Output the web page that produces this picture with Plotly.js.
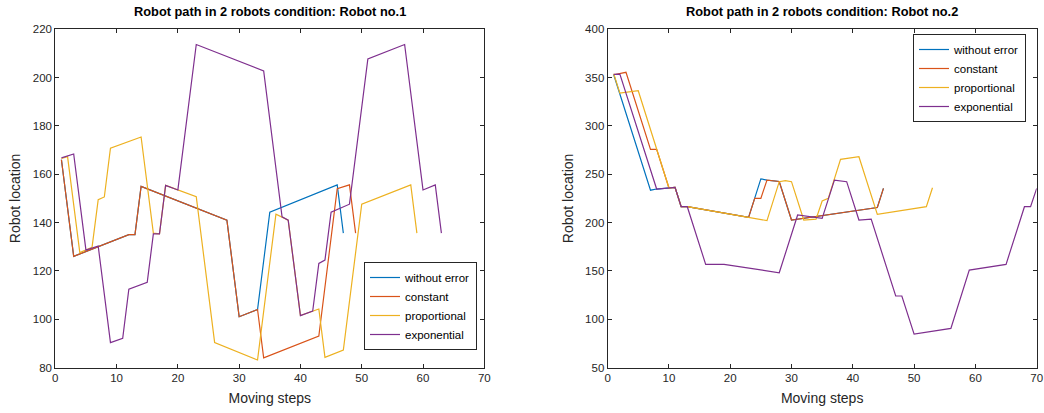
<!DOCTYPE html>
<html>
<head>
<meta charset="utf-8">
<script src="https://cdn.plot.ly/plotly-3.0.1.min.js"></script>
<style>html,body{margin:0;padding:0;background:#fff;}#chart{width:1044px;height:413px;}</style>
</head>
<body>
<div id="chart"></div>
<script>
// ---- Data: Robot no.1 (left panel) ----
const seriesNames = ["without error", "constant", "proportional", "exponential"];
const seriesColors = ["#0072BD", "#D95319", "#EDB120", "#7E2F8E"];

const r1_noerr_x = [1, 3, 12, 13, 14, 28, 30, 33, 35, 46, 47];
const r1_noerr_y = [166, 126, 135, 135, 155, 141, 101, 104, 144.3, 155.6, 135.6];
const r1_const_x = [1, 3, 12, 13, 14, 28, 30, 33, 34, 43, 46, 48, 49];
const r1_const_y = [166, 126, 135, 135, 155, 141, 101, 104, 84, 93, 154, 155.6, 135.6];
const r1_prop_x = [1, 2, 4, 6, 7, 8, 9, 14, 16, 17, 18, 20, 23, 26, 33, 36, 37, 38, 40, 42, 43, 44, 47, 50, 58, 59];
const r1_prop_y = [166.5, 167.3, 127.6, 129.8, 149.5, 150.6, 170.8, 175.4, 135.6, 135.3, 155.4, 153.5, 150.7, 90.3, 83.1, 143.5, 142.4, 141, 101.5, 103.4, 104.2, 84.2, 87.2, 147.6, 155.6, 135.6];
const r1_exp_x = [1, 3, 5, 7, 9, 11, 12, 15, 16, 17, 18, 20, 23, 34, 37, 38, 40, 42, 43, 44, 45, 48, 51, 57, 60, 62, 63];
const r1_exp_y = [166.8, 168.4, 128.6, 130.3, 90.3, 92.1, 112.4, 115.3, 135.3, 135.3, 155.4, 153.5, 213.7, 202.8, 142.4, 141, 101.5, 103.4, 123.1, 124.5, 144.3, 147.6, 207.7, 213.7, 153.5, 155.6, 135.6];

// ---- Data: Robot no.2 (right panel) ----
const r2_noerr_x = [1, 2, 7, 8, 10, 11, 12, 13, 23, 24, 25, 26, 28, 30, 44, 45];
const r2_noerr_y = [353, 333, 233.5, 234.7, 236, 236.4, 216.4, 216.4, 205.4, 225, 245.2, 244, 242.5, 202.6, 215.6, 235.4];
const r2_const_x = [1, 2, 3, 7, 8, 10, 11, 12, 13, 23, 24, 25, 26, 28, 30, 44, 45];
const r2_const_y = [353, 354, 355.5, 275.8, 275.8, 236, 236.4, 216.4, 216.4, 205.4, 225, 225, 244, 242.5, 202.6, 215.6, 235.4];
const r2_prop_x = [1, 2, 5, 10, 11, 12, 13, 26, 28, 29, 30, 32, 34, 35, 36, 38, 41, 44, 52, 53];
const r2_prop_y = [354, 334, 336.4, 236, 236.4, 216.4, 216.4, 202, 242.3, 243.3, 242.3, 202.6, 203.5, 222.3, 225, 265.4, 268.1, 208.5, 216.4, 236];
const r2_exp_x = [1, 2, 8, 10, 11, 12, 13, 16, 19, 28, 31, 35, 37, 39, 41, 43, 47, 48, 50, 56, 59, 65, 68, 69, 70];
const r2_exp_y = [353.4, 353.7, 234.7, 236, 236.4, 216.4, 216.4, 156.7, 156.7, 148, 207.8, 204.3, 244, 242.3, 202.6, 203.6, 124, 124, 84.6, 90.5, 150.8, 156.7, 216.4, 216.4, 235.4];

// ---- Axis ticks ----
const xTicks = [0, 10, 20, 30, 40, 50, 60, 70];
const y1Ticks = [80, 100, 120, 140, 160, 180, 200, 220];
const y2Ticks = [50, 100, 150, 200, 250, 300, 350, 400];

const left = [[r1_noerr_x, r1_noerr_y], [r1_const_x, r1_const_y], [r1_prop_x, r1_prop_y], [r1_exp_x, r1_exp_y]];
const right = [[r2_noerr_x, r2_noerr_y], [r2_const_x, r2_const_y], [r2_prop_x, r2_prop_y], [r2_exp_x, r2_exp_y]];

const traces = [];
left.forEach((s, i) => traces.push({
  x: s[0], y: s[1], type: 'scatter', mode: 'lines', name: seriesNames[i],
  line: {color: seriesColors[i], width: 1.2}, xaxis: 'x', yaxis: 'y', legend: 'legend'
}));
right.forEach((s, i) => traces.push({
  x: s[0], y: s[1], type: 'scatter', mode: 'lines', name: seriesNames[i],
  line: {color: seriesColors[i], width: 1.2}, xaxis: 'x2', yaxis: 'y2', legend: 'legend2'
}));

const axisCol = '#262626';
const FONT = 'Liberation Sans, Arial, Helvetica, sans-serif';
function xax(domain, anchor) {
  return {
    domain: domain, anchor: anchor, range: [0, 70], tickvals: xTicks, ticks: 'inside', ticklen: 4,
    tickcolor: axisCol, showline: true, linecolor: axisCol, linewidth: 1, mirror: 'ticks',
    showgrid: false, zeroline: false, tickfont: {size: 11.5, color: axisCol, family: FONT},
    title: {text: 'Moving steps', font: {size: 14, color: axisCol, family: FONT}, standoff: 9}
  };
}
function yax(domain, anchor, range, ticks) {
  return {
    domain: domain, anchor: anchor, range: range, tickvals: ticks, ticks: 'inside', ticklen: 4,
    tickcolor: axisCol, showline: true, linecolor: axisCol, linewidth: 1, mirror: 'ticks',
    showgrid: false, zeroline: false, tickfont: {size: 11.5, color: axisCol, family: FONT},
    title: {text: 'Robot location', font: {size: 14, color: axisCol, family: FONT}, standoff: 8}
  };
}
const yDom = [1 - 367.5 / 413, 1 - 29.3 / 413];
const legendStyle = {
  bgcolor: '#ffffff', bordercolor: axisCol, borderwidth: 1,
  font: {size: 11.5, color: '#000', family: FONT}, xanchor: 'left', yanchor: 'top',
  tracegroupgap: 0, itemclick: false
};
const layout = {
  width: 1044, height: 413, margin: {l: 0, r: 0, t: 0, b: 0},
  paper_bgcolor: '#fff', plot_bgcolor: '#fff', showlegend: true,
  font: {family: FONT},
  xaxis: xax([55.3 / 1044, 484.3 / 1044], 'y'),
  yaxis: yax(yDom, 'x', [80, 220], y1Ticks),
  xaxis2: xax([607.6 / 1044, 1036.7 / 1044], 'y2'),
  yaxis2: yax(yDom, 'x2', [50, 400], y2Ticks),
  legend: Object.assign({x: 364 / 1044, y: 1 - 262 / 413}, legendStyle),
  legend2: Object.assign({x: 913 / 1044, y: 1 - 34 / 413}, legendStyle),
  annotations: [
    {text: '<b>Robot path in 2 robots condition: Robot no.1</b>', xref: 'paper', yref: 'paper',
     x: (55.3 + 484.3) / 2 / 1044, y: 1 - 12 / 413, xanchor: 'center', yanchor: 'middle', showarrow: false,
     font: {size: 12.8, color: '#000', family: FONT}},
    {text: '<b>Robot path in 2 robots condition: Robot no.2</b>', xref: 'paper', yref: 'paper',
     x: (607.6 + 1036.7) / 2 / 1044, y: 1 - 12 / 413, xanchor: 'center', yanchor: 'middle', showarrow: false,
     font: {size: 12.8, color: '#000', family: FONT}}
  ]
};
Plotly.newPlot('chart', traces, layout, {displayModeBar: false, staticPlot: true});
</script>
</body>
</html>
